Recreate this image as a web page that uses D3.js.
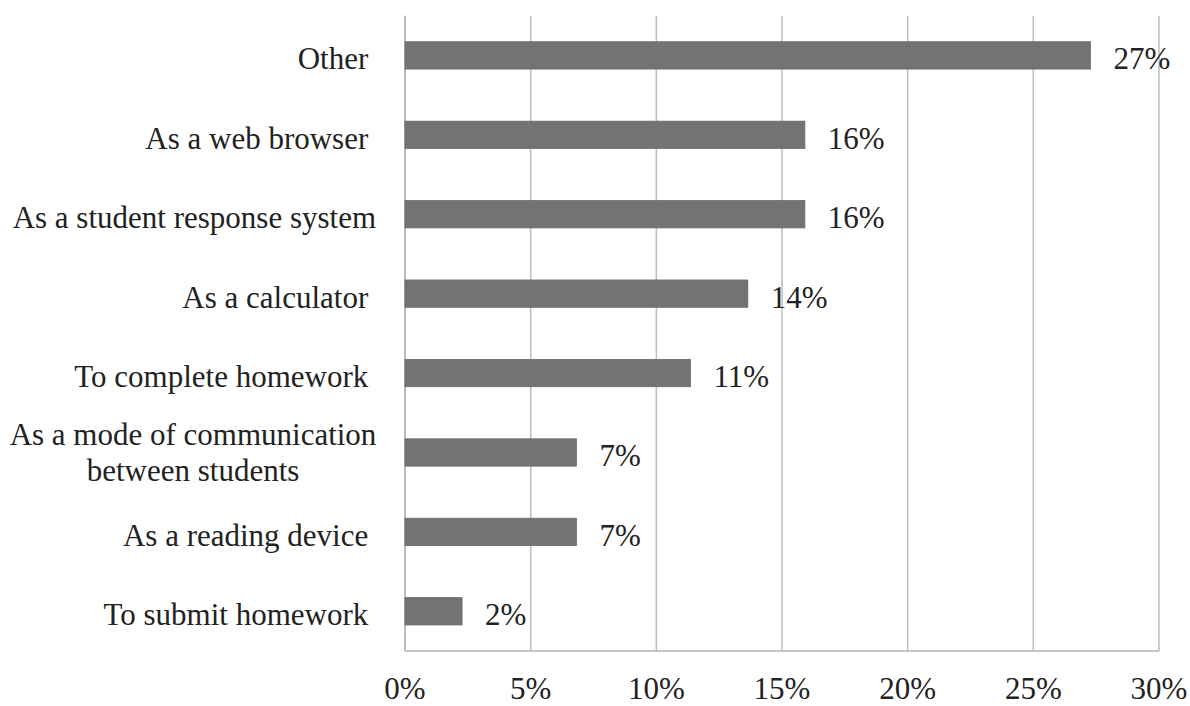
<!DOCTYPE html>
<html>
<head>
<meta charset="utf-8">
<script src="https://cdn.jsdelivr.net/npm/d3@7"></script>
<style>
  html, body { margin: 0; padding: 0; background: #ffffff; }
  svg text { font-family: "Liberation Serif", "Times New Roman", serif; fill: #222222; white-space: pre; }
</style>
</head>
<body>
<svg id="chart" width="1190" height="706"></svg>
<script>
// Data (share of responses, %)
const categories = [
  ["Other "],
  ["As a web browser "],
  ["As a student response system"],
  ["As a calculator "],
  ["To complete homework "],
  ["As a mode of communication", "between students"],
  ["As a reading device "],
  ["To submit homework "]
];
const values = [27.27, 15.91, 15.91, 13.64, 11.36, 6.82, 6.82, 2.27];
const valueLabels = ["27%", "16%", "16%", "14%", "11%", "7%", "7%", "2%"];
const tickValues = [0, 5, 10, 15, 20, 25, 30];
const tickLabels = ["0%", "5%", "10%", "15%", "20%", "25%", "30%"];

const svg = d3.select("#chart");
const plotLeft = 405, plotRight = 1159, plotTop = 15.7, plotBottom = 651;
const fs = 31;

const x = d3.scaleLinear().domain([0, 30]).range([plotLeft, plotRight]);
const keys = categories.map((c, i) => i);
const y = d3.scaleBand().domain(keys).range([plotTop, plotBottom]).paddingInner(0.656).paddingOuter(0.328);

// gridlines
svg.append("g").selectAll("line").data(tickValues).join("line")
  .attr("x1", d => x(d)).attr("x2", d => x(d))
  .attr("y1", plotTop).attr("y2", plotBottom)
  .attr("stroke", "#bdbdbd").attr("stroke-width", 1.5);

// axis lines
svg.append("line").attr("x1", x(0)).attr("x2", x(0)).attr("y1", plotTop).attr("y2", plotBottom)
  .attr("stroke", "#b5b5b5").attr("stroke-width", 1.5);
svg.append("line").attr("x1", x(0)).attr("x2", x(30)).attr("y1", plotBottom).attr("y2", plotBottom)
  .attr("stroke", "#b5b5b5").attr("stroke-width", 1.5);

// tick labels
svg.append("g").selectAll("text").data(tickValues).join("text")
  .attr("x", d => x(d)).attr("y", 699)
  .attr("text-anchor", "middle").attr("font-size", fs)
  .text((d, i) => tickLabels[i]);

// bars
svg.append("g").selectAll("rect").data(values).join("rect")
  .attr("x", x(0)).attr("y", (d, i) => y(i))
  .attr("width", d => x(d) - x(0)).attr("height", y.bandwidth())
  .attr("fill", "#737373").attr("stroke", "#6a6a6a").attr("stroke-width", 0.8);

// value labels
svg.append("g").selectAll("text").data(values).join("text")
  .attr("x", d => x(d) + 23)
  .attr("y", (d, i) => y(i) + y.bandwidth() / 2 + 14)
  .attr("font-size", fs)
  .text((d, i) => valueLabels[i]);

// category labels
const labelX = 376;
categories.forEach((lines, i) => {
  const cy = y(i) + y.bandwidth() / 2;
  if (lines.length === 1) {
    svg.append("text").attr("x", labelX).attr("y", cy + 14)
      .attr("text-anchor", "end").attr("font-size", fs).text(lines[0]);
  } else {
    const t = svg.append("text").attr("font-size", fs).attr("text-anchor", "middle");
    const w = 366; // block width of widest line, right-aligned at labelX
    const cx = labelX - w / 2;
    lines.forEach((ln, j) => {
      t.append("tspan").attr("x", cx).attr("y", cy - 7.5 + j * 36).text(ln);
    });
  }
});
</script>
</body>
</html>
